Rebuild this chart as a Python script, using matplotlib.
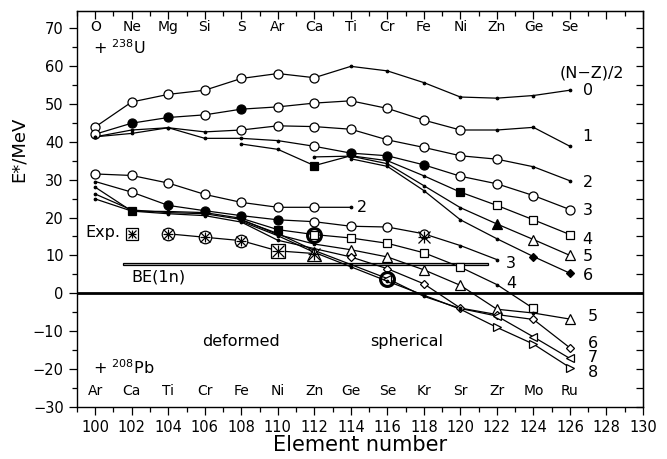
import numpy as np
import matplotlib
matplotlib.use('Agg')
import matplotlib.pyplot as plt
from matplotlib.patches import Rectangle

plt.rcParams['font.family'] = 'DejaVu Sans'
plt.rcParams['mathtext.default'] = 'regular'

# compound element number and the projectile names for each target
element_numbers = list(range(100, 127, 2))
u_projectiles = ['O', 'Ne', 'Mg', 'Si', 'S', 'Ar', 'Ca', 'Ti', 'Cr', 'Fe', 'Ni', 'Zn', 'Ge', 'Se']
pb_projectiles = ['Ar', 'Ca', 'Ti', 'Cr', 'Fe', 'Ni', 'Zn', 'Ge', 'Se', 'Kr', 'Sr', 'Zr', 'Mo', 'Ru']

# 238U + projectile, E* in MeV, one list per (N-Z)/2
u0_e = [43.9, 50.5, 52.5, 53.6, 56.7, 58.0, 56.9, 59.9, 58.7, 55.6, 51.8, 51.5, 52.2, 53.6]
u1_e = [42.0, 44.9, 46.4, 47.1, 48.6, 49.2, 50.2, 50.8, 48.8, 45.7, 43.1, 43.1, 43.8, 38.8]
u2_e = [41.3, 43.1, 43.7, 42.6, 43.1, 44.2, 44.0, 43.3, 40.5, 38.5, 36.3, 35.4, 33.4, 29.7]
u3_e = [41.3, 42.2, 43.7, 40.9, 40.9, 40.3, 38.8, 37.0, 36.3, 33.9, 30.9, 28.9, 25.8, 22.1]
u4_e = [39.4, 38.0, 33.7, 36.3, 35.0, 31.0, 26.7, 23.2, 19.4, 15.5]
u5_e = [36.0, 36.2, 34.2, 28.4, 22.6, 18.3, 14.2, 10.0]
u6_e = [35.5, 33.5, 27.1, 19.4, 14.4, 9.7, 5.3]

# 208Pb + projectile
pb2_e = [31.5, 31.1, 29.1, 26.1, 24.0, 22.7, 22.7, 22.7]
pb3_e = [29.5, 26.7, 23.2, 21.8, 20.5, 19.4, 18.9, 17.7, 17.5, 15.7, 12.6, 8.9]
pb4_e = [28.0, 21.7, 21.6, 21.3, 19.8, 16.8, 15.5, 14.6, 13.2, 10.7, 6.9, 2.3, -4.0]
pb5_e = [26.2, 22.0, 21.3, 21.0, 19.5, 15.5, 13.0, 11.5, 9.6, 6.2, 2.1, -4.2, -5.2, -6.8]
pb6_e = [24.9, 21.7, 21.0, 20.5, 18.8, 14.0, 11.8, 9.6, 6.5, 2.5, -3.9, -5.6, -6.9, -14.4]
pb7_e = [19.3, 15.8, 11.3, 7.6, 3.9, -0.8, -4.0, -6.0, -11.5, -17.2]
pb8_e = [19.0, 15.2, 10.8, 7.0, 3.2, -0.5, -4.2, -9.0, -13.4, -19.6]

# measured values
exp_z = [104, 106, 108, 110, 112]
exp_e = [15.7, 14.8, 13.9, 11.2, 10.5]
exp_fe_z, exp_fe_e = 118, 14.8
exp_circle_z = [112, 116]
exp_circle_e = [15.5, 3.9]

be1n_lo, be1n_hi = 7.4, 8.1
be1n_z = (101.5, 121.5)

# (first index into element_numbers, values, symbols)
curves = [
    (0, u0_e, 'ooooooo.......'),
    (0, u1_e, 'oOOoOoooooo...'),
    (0, u2_e, '....oooooooo..'),
    (0, u3_e, '......oOOOoooo'),
    (4, u4_e, '..S...Ssss'),
    (6, u5_e, '.....A^^'),
    (7, u6_e, '.....DD'),
    (0, pb2_e, 'ooooooo.'),
    (0, pb3_e, '.oOOOOoooo..'),
    (0, pb4_e, '.S...Ssssss.s'),
    (0, pb5_e, '.......^^^^^.^'),
    (0, pb6_e, '.......ddddddd'),
    (4, pb7_e, '....<..<<<'),
    (4, pb8_e, '.......>>>'),
]

symbols = {
    'o': dict(marker='o', ms=6.5, mfc='white'),
    'O': dict(marker='o', ms=6.5, mfc='black'),
    '.': dict(marker='o', ms=1.8, mfc='black'),
    's': dict(marker='s', ms=6, mfc='white'),
    'S': dict(marker='s', ms=6, mfc='black'),
    '^': dict(marker='^', ms=6.5, mfc='white'),
    'A': dict(marker='^', ms=6.5, mfc='black'),
    'd': dict(marker='D', ms=4.5, mfc='white'),
    'D': dict(marker='D', ms=4.5, mfc='black'),
    '<': dict(marker='<', ms=6, mfc='white'),
    '>': dict(marker='>', ms=6, mfc='white'),
}


def draw_curve(ax, start, values, codes):
    z = element_numbers[start:start + len(values)]
    ax.plot(z, values, '-', color='black', lw=0.9, zorder=2)
    for zi, ei, c in zip(z, values, codes):
        ax.plot(zi, ei, linestyle='none', mec='black', mew=0.9,
                zorder=3, **symbols[c])


def asterisk(ax, z, e, size=7, frame=None):
    if frame is not None:
        ax.plot(z, e, linestyle='none', marker=frame, ms=size + 2,
                mfc='white', mec='black', mew=0.9, zorder=4)
    for m in ['+', 'x']:
        ax.plot(z, e, linestyle='none', marker=m, ms=size,
                mec='black', mew=0.9, zorder=5)


fig = plt.figure(figsize=(6.67, 4.59), dpi=100)
ax = fig.add_axes([0.1154, 0.1133, 0.8486, 0.8627])

for start, values, codes in curves:
    draw_curve(ax, start, values, codes)

# experimental points
ax.plot(exp_z, exp_e, '-', color='black', lw=0.9, zorder=2)
for z, e in zip(exp_z[:3], exp_e[:3]):
    asterisk(ax, z, e, frame='o')
asterisk(ax, exp_z[3], exp_e[3], size=8, frame='s')
asterisk(ax, exp_z[4], exp_e[4], size=8, frame='^')
asterisk(ax, exp_fe_z, exp_fe_e, size=8)
ax.plot(exp_circle_z, exp_circle_e, linestyle='none', marker='o', ms=10,
        mfc='none', mec='black', mew=2.2, zorder=6)
asterisk(ax, 102, 15.7, size=6, frame='s')
ax.text(99.45, 16.1, 'Exp.', ha='left', va='center', fontsize=11.5)

# one-neutron binding energy band
ax.add_patch(Rectangle((be1n_z[0], be1n_lo), be1n_z[1] - be1n_z[0],
                       be1n_hi - be1n_lo, facecolor='#bbbbbb',
                       edgecolor='black', lw=0.9, zorder=1))
ax.text(102.0, 4.3, 'BE(1n)', ha='left', va='center', fontsize=11.5)

ax.axhline(0, color='black', lw=2.0, zorder=1)

# element names along the top and bottom
for z, name in zip(element_numbers, u_projectiles):
    ax.text(z, 70.3, name, ha='center', va='center', fontsize=10)
for z, name in zip(element_numbers, pb_projectiles):
    ax.text(z, -25.8, name, ha='center', va='center', fontsize=10)

ax.text(99.9, 64.8, '+ $^{238}$U', ha='left', va='center', fontsize=11.5)
ax.text(99.9, -19.6, '+ $^{208}$Pb', ha='left', va='center', fontsize=11.5)
ax.text(125.45, 58.2, '(N\u2212Z)/2', ha='left', va='center', fontsize=11.5)
ax.text(108.0, -12.6, 'deformed', ha='center', va='center', fontsize=11.5)
ax.text(117.05, -12.6, 'spherical', ha='center', va='center', fontsize=11.5)

# (N-Z)/2 labels at the curve ends
for txt, z, e in [('0', 126.7, 53.4), ('1', 126.7, 41.3), ('2', 126.7, 29.3),
                  ('3', 126.7, 21.8), ('4', 126.7, 14.1), ('5', 126.7, 9.6),
                  ('6', 126.7, 4.7), ('2', 114.35, 22.7), ('3', 122.5, 7.8),
                  ('4', 122.5, 2.5), ('5', 127.0, -6.2), ('6', 127.0, -13.2),
                  ('7', 127.0, -16.9), ('8', 127.0, -20.9)]:
    ax.text(z, e, txt, ha='left', va='center', fontsize=11.5)

ax.set_xlim(99, 130)
ax.set_ylim(-30, 74.5)
ax.set_xticks(np.arange(100, 131, 2))
ax.set_xticks(np.arange(99, 131, 1), minor=True)
ax.set_yticks(np.arange(-30, 71, 10))
ax.set_yticks(np.arange(-30, 75, 5), minor=True)
ax.tick_params(which='both', direction='out', labelsize=10.5, width=0.9)
ax.tick_params(which='major', length=6)
ax.tick_params(which='minor', length=3.5)
for s in ax.spines.values():
    s.set_linewidth(1.0)

top = ax.secondary_xaxis('top')
top.set_xticks(np.arange(100, 131, 2))
top.set_xticks(np.arange(99, 131, 1), minor=True)
top.tick_params(which='both', direction='in', labeltop=False, width=0.9)
top.tick_params(which='major', length=6)
top.tick_params(which='minor', length=3.5)
right = ax.secondary_yaxis('right')
right.set_yticks(np.arange(-30, 75, 5))
right.tick_params(direction='in', labelright=False, length=5, width=0.9)

ax.set_ylabel('E*/MeV', fontsize=13)
ax.yaxis.set_label_coords(-0.087, 0.65)
fig.text(360 / 667, 1 - 445 / 459, 'Element number', ha='center',
         va='center', fontsize=15)

fig.savefig('out.png', dpi=100)
